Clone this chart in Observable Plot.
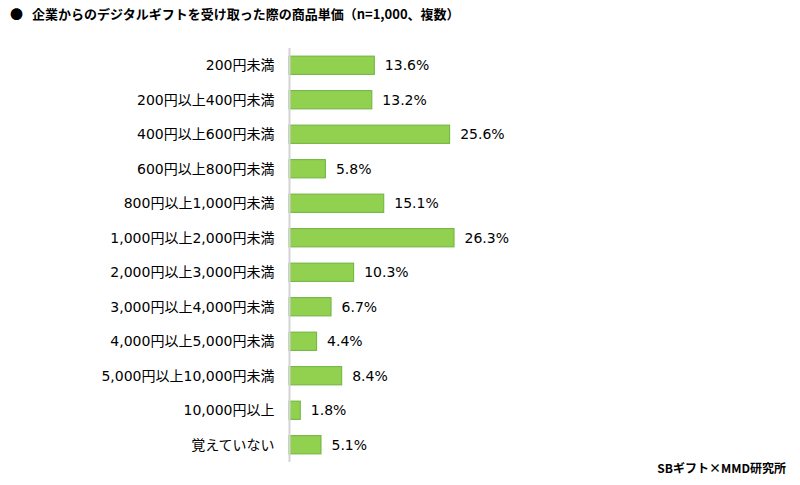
<!DOCTYPE html>
<html><head><meta charset="utf-8">
<script src="https://cdn.jsdelivr.net/npm/d3@7"></script>
<script src="https://cdn.jsdelivr.net/npm/@observablehq/plot@0.6"></script>
<style>
body{margin:0;background:#fff;font-family:"Noto Sans CJK JP","Noto Sans",sans-serif;}
#wrap{position:relative;width:800px;height:485px;overflow:hidden;}
#title{position:absolute;left:10px;top:4px;font-size:13px;font-weight:bold;color:#000;white-space:nowrap;}
#title .dot{display:inline-block;width:16px;}
#chart{position:absolute;left:0;top:30px;}
#caption{position:absolute;right:14px;top:459px;font-size:12px;font-weight:bold;color:#000;}
</style></head>
<body><div id="wrap">
<div id="title"><span class="dot">●</span>&nbsp;&nbsp;企業からのデジタルギフトを受け取った際の商品単価（n=1,000、複数）</div>
<div id="chart"></div>
<div id="caption">SBギフト×MMD研究所</div>
</div>
<script>
const categories = ["200円未満","200円以上400円未満","400円以上600円未満","600円以上800円未満","800円以上1,000円未満","1,000円以上2,000円未満","2,000円以上3,000円未満","3,000円以上4,000円未満","4,000円以上5,000円未満","5,000円以上10,000円未満","10,000円以上","覚えていない"];
const values = [13.6,13.2,25.6,5.8,15.1,26.3,10.3,6.7,4.4,8.4,1.8,5.1];
const data = categories.map((c,i)=>({cat:c, v:values[i]}));
const FONT = '"DejaVu Sans","Noto Sans CJK JP",sans-serif';
const chart = Plot.plot({
  width:800, height:455,
  marginTop:18, marginBottom:23, marginLeft:289, marginRight:9,
  style:{fontFamily:FONT, fontSize:"14px", color:"#000"},
  x:{domain:[0,80], axis:null},
  y:{domain:categories, paddingInner:0.47, paddingOuter:0.235, round:false, label:null},
  marks:[
    Plot.barX(data,{y:"cat", x:"v", fill:"#92D050", stroke:"#6DB33F", strokeWidth:1}),
    Plot.ruleX([0],{stroke:"#d4d4d4", strokeWidth:2}),
    Plot.text(data,{y:"cat", x:"v", text:d=>d.v.toFixed(1)+"%", textAnchor:"start", dx:10, fontSize:14, fill:"#000"}),
    Plot.axisY({tickSize:0, tickPadding:15, fontSize:14, label:null})
  ]
});
document.getElementById("chart").appendChild(chart);
</script>
</body></html>
